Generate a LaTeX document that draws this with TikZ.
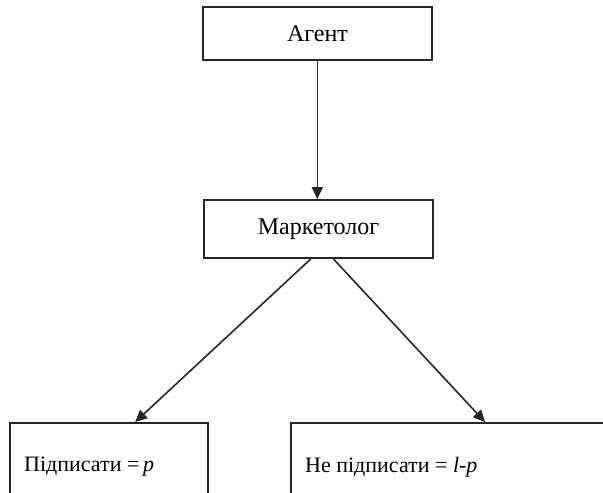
\documentclass[tikz,border=0pt]{standalone}
\usepackage{fontspec}
\setmainfont{Liberation Serif}
\usetikzlibrary{arrows.meta,calc}
\tikzset{
  box/.style={draw=black!85, line width=1.8pt, rectangle, inner sep=0pt},
  conn/.style={draw=black!85, line width=1.6pt, -{Triangle[length=12pt,width=11pt]}},
  txt/.style={font=\fontsize{24}{28}\selectfont, inner sep=0pt},
  btxt/.style={font=\fontsize{22}{26}\selectfont, inner sep=0pt, anchor=west}
}
\begin{document}
\begin{tikzpicture}[x=1pt,y=-1pt]
\useasboundingbox (0,0) rectangle (603,493);
\clip (0,0) rectangle (603,493);
\fill[white] (0,0) rectangle (603,493);
\node[box, minimum width=229pt, minimum height=53pt] (ag) at (317.5,33.5) {};
\node[txt] (agt) at (ag.center) {Агент};
\node[box, minimum width=229pt, minimum height=58pt] (mk) at (318.5,229) {};
\node[txt] (mkt) at (mk.center) {Маркетолог};
\node[box, minimum width=198pt, minimum height=76pt] (l) at (109,461) {};
\node[btxt] (lt) at (24,467) {Підписати =\,\textit{p}};
\node[box, minimum width=320pt, minimum height=76pt] (r) at (451,461) {};
\node[btxt] (rt) at (305,467) {Не підписати = \textit{l-p}};
\draw[conn] (ag.south -| 317.3,0) -- (mk.north -| 317.3,0);
\draw[conn] ($(mk.south west)+(107.7,0)$) -- ($(l.north west)+(126,0)$);
\draw[conn] ($(mk.south west)+(130.3,0)$) -- ($(r.north west)+(195,0)$);
\end{tikzpicture}
\end{document}
